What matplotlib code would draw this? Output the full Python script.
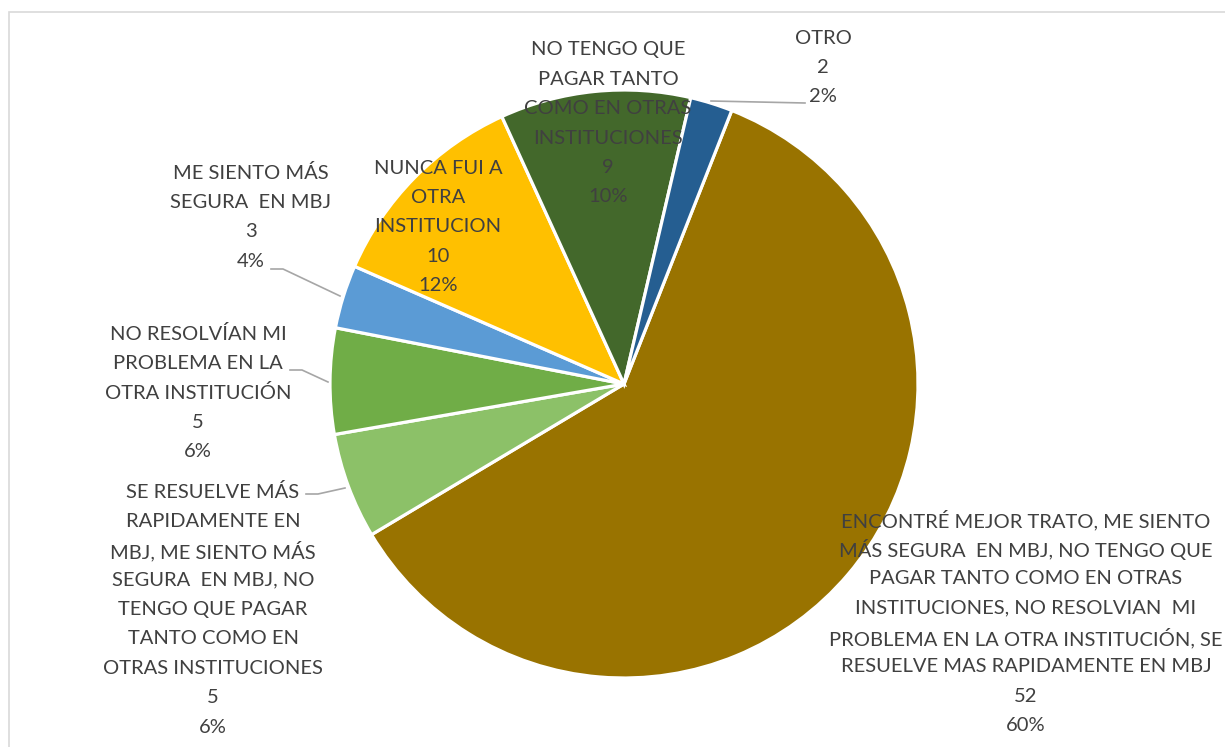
import matplotlib.pyplot as plt
from matplotlib.patches import Rectangle

# data, in drawing order (clockwise from the brown slice)
labels = [
    "ENCONTRÉ MEJOR TRATO, ME SIENTO\nMÁS SEGURA  EN MBJ, NO TENGO QUE\nPAGAR TANTO COMO EN OTRAS\n"
    "INSTITUCIONES, NO RESOLVIAN  MI\nPROBLEMA EN LA OTRA INSTITUCIÓN, SE\nRESUELVE MAS RAPIDAMENTE EN MBJ",
    "SE RESUELVE MÁS\nRAPIDAMENTE EN\nMBJ, ME SIENTO MÁS\nSEGURA  EN MBJ, NO\nTENGO QUE PAGAR\n"
    "TANTO COMO EN\nOTRAS INSTITUCIONES",
    "NO RESOLVÍAN MI\nPROBLEMA EN LA\nOTRA INSTITUCIÓN",
    "ME SIENTO MÁS\nSEGURA  EN MBJ",
    "NUNCA FUI A\nOTRA\nINSTITUCION",
    "NO TENGO QUE\nPAGAR TANTO\nCOMO EN OTRAS\nINSTITUCIONES",
    "OTRO",
]
counts = [52, 5, 5, 3, 10, 9, 2]
percents = ["60%", "6%", "6%", "4%", "12%", "10%", "2%"]
colors = ["#997300", "#8CC168", "#70AD47", "#5B9BD5", "#FFC000", "#43682B", "#255E91"]

# label placement in pixels (centre x, first line y from top)
label_pos = [(1026, 520), (213, 492), (198, 334), (251, 173), (438, 168), (608, 50), (823, 38)]
line_step = 29.4

W, H = 1225, 747
fig = plt.figure(figsize=(W / 100, H / 100), dpi=100)
ax = fig.add_axes([0, 0, 1, 1])

# chart area border (right and bottom are cut off in the original)
ax.add_patch(Rectangle((9, -20), W + 20, H - 12 + 20, fill=False, edgecolor="#D9D9D9", lw=1.2))

cx, cy, r = 624, H - 384, 294
ax.pie(counts, colors=colors, startangle=68.5, counterclock=False,
       center=(cx, cy), radius=r, frame=True,
       wedgeprops=dict(edgecolor="white", linewidth=2.3))
ax.set_xlim(0, W)
ax.set_ylim(0, H)
ax.set_aspect("equal")
ax.axis("off")

text_color = "#404040"
for lab, n, p, (x, y0) in zip(labels, counts, percents, label_pos):
    lines = lab.split("\n") + [str(n), p]
    for i, line in enumerate(lines):
        ax.text(x, H - (y0 + i * line_step), line, ha="center", va="center",
                fontsize=14.5, color=text_color, family=["Lato", "DejaVu Sans"])

# leader lines
leaders = [
    [(711, 101), (805, 103)],
    [(271, 269), (283, 269), (340, 296)],
    [(290, 370), (302, 370), (328, 382)],
    [(306, 494), (318, 494), (345, 488)],
]
for pts in leaders:
    xs = [p[0] for p in pts]
    ys = [H - p[1] for p in pts]
    ax.plot(xs, ys, color="#A6A6A6", lw=1.2)

fig.savefig("out.png", dpi=100)
